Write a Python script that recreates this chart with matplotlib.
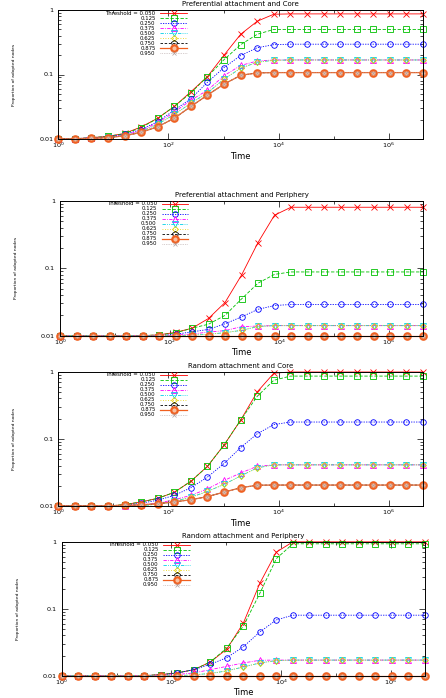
import matplotlib
matplotlib.use("Agg")
import matplotlib.pyplot as plt
from matplotlib.ticker import FixedLocator, NullFormatter, FixedFormatter

# ---------------- data ----------------
time = [2 ** k for k in range(23)]
thresholds = ["0.050", "0.125", "0.250", "0.375", "0.500", "0.625", "0.750", "0.875", "0.950"]
titles = ["Preferential attachment and Core", "Preferential attachment and Periphery",
          "Random attachment and Core", "Random attachment and Periphery"]

# Preferential attachment and Core
pc_050 = [0.01, 0.0101, 0.0105, 0.011, 0.0122, 0.0154, 0.021, 0.032, 0.054, 0.093, 0.20, 0.42, 0.67, 0.86] + [0.87] * 9
pc_125 = [0.01, 0.0101, 0.0105, 0.011, 0.0121, 0.015, 0.021, 0.032, 0.052, 0.093, 0.17, 0.29, 0.42, 0.50] + [0.50] * 9
pc_250 = [0.01, 0.0101, 0.0104, 0.0108, 0.0118, 0.014, 0.0186, 0.028, 0.042, 0.076, 0.128, 0.197, 0.26, 0.29] + [0.295] * 9
pc_375 = [0.01, 0.0101, 0.0104, 0.0107, 0.0115, 0.0135, 0.018, 0.026, 0.040, 0.057, 0.096, 0.138, 0.162, 0.168] + [0.168] * 9
pc_500 = [0.01, 0.0101, 0.0103, 0.0106, 0.0113, 0.013, 0.017, 0.024, 0.036, 0.052, 0.085, 0.125, 0.155, 0.166] + [0.168] * 9
pc_625 = [0.01, 0.0101, 0.0103, 0.0106, 0.0113, 0.013, 0.017, 0.024, 0.036, 0.052, 0.085, 0.125, 0.155, 0.166] + [0.168] * 9
pc_750 = [0.01, 0.01, 0.0102, 0.0105, 0.0112, 0.0127, 0.0155, 0.021, 0.032, 0.048, 0.071, 0.097, 0.106, 0.107] + [0.107] * 9
pc_875 = [0.01, 0.01, 0.0102, 0.0105, 0.0112, 0.0127, 0.0155, 0.021, 0.032, 0.048, 0.071, 0.097, 0.106, 0.107] + [0.107] * 9
pc_950 = [0.01, 0.01, 0.0102, 0.0105, 0.0112, 0.0127, 0.0155, 0.021, 0.032, 0.048, 0.071, 0.097, 0.106, 0.107] + [0.107] * 9

# Preferential attachment and Periphery
pp_050 = [0.01] * 6 + [0.0103, 0.0112, 0.0129, 0.018, 0.031, 0.079, 0.24, 0.61] + [0.80] * 9
pp_125 = [0.01] * 6 + [0.0103, 0.011, 0.0129, 0.0148, 0.020, 0.035, 0.060, 0.081] + [0.088] * 9
pp_250 = [0.01] * 7 + [0.0105, 0.0114, 0.0124, 0.015, 0.019, 0.0246, 0.028] + [0.029] * 9
pp_375 = [0.01] * 7 + [0.0102, 0.0106, 0.0113, 0.0119, 0.0136, 0.0139, 0.0141] + [0.0141] * 9
pp_500 = [0.01] * 8 + [0.0102, 0.0105, 0.0111, 0.012, 0.0137, 0.0141] + [0.0141] * 9
pp_625 = [0.01] * 8 + [0.0102, 0.0105, 0.0111, 0.012, 0.0137, 0.0141] + [0.0141] * 9
pp_750 = [0.01] * 23
pp_875 = [0.01] * 23
pp_950 = [0.01] * 23

# Random attachment and Core
rc_050 = [0.01] * 4 + [0.0105, 0.0115, 0.013, 0.016, 0.0234, 0.039, 0.081, 0.19, 0.50, 0.95] + [0.99] * 9
rc_125 = [0.01] * 4 + [0.0105, 0.0115, 0.013, 0.016, 0.0234, 0.039, 0.081, 0.19, 0.43, 0.745] + [0.86] * 9
rc_250 = [0.01] * 4 + [0.0103, 0.011, 0.0122, 0.0144, 0.0187, 0.027, 0.043, 0.074, 0.119, 0.163] + [0.178] * 9
rc_375 = [0.01] * 5 + [0.0104, 0.011, 0.0124, 0.0144, 0.018, 0.024, 0.031, 0.039] + [0.041] * 10
rc_500 = [0.01] * 6 + [0.0107, 0.0118, 0.0135, 0.0165, 0.021, 0.028, 0.037] + [0.041] * 10
rc_625 = [0.01] * 6 + [0.0107, 0.0118, 0.0135, 0.0165, 0.021, 0.028, 0.037] + [0.041] * 10
rc_750 = [0.01] * 4 + [0.0102, 0.0104, 0.0108, 0.0115, 0.0124, 0.0138, 0.0161, 0.0187, 0.0204] + [0.0205] * 10
rc_875 = [0.01] * 4 + [0.0102, 0.0104, 0.0108, 0.0115, 0.0124, 0.0138, 0.0161, 0.0187, 0.0204] + [0.0205] * 10
rc_950 = [0.01] * 4 + [0.0102, 0.0104, 0.0108, 0.0115, 0.0124, 0.0138, 0.0161, 0.0187, 0.0204] + [0.0205] * 10

# Random attachment and Periphery
rp_050 = [0.01] * 6 + [0.0104, 0.011, 0.0123, 0.016, 0.025, 0.061, 0.24, 0.70] + [0.995] * 9
rp_125 = [0.01] * 6 + [0.0104, 0.011, 0.0123, 0.016, 0.026, 0.055, 0.17, 0.56] + [0.93] * 9
rp_250 = [0.01] * 6 + [0.0103, 0.011, 0.0123, 0.0148, 0.0186, 0.027, 0.045, 0.068] + [0.080] * 9
rp_375 = [0.01] * 7 + [0.0104, 0.011, 0.0123, 0.0138, 0.0155, 0.017] + [0.0171] * 10
rp_500 = [0.01] * 8 + [0.0103, 0.0108, 0.0118, 0.0135, 0.0155, 0.0168] + [0.0171] * 9
rp_625 = [0.01] * 8 + [0.0103, 0.0108, 0.0118, 0.0135, 0.0155, 0.0168] + [0.0171] * 9
rp_750 = [0.01] * 23
rp_875 = [0.01] * 23
rp_950 = [0.01] * 23

panels = [
    [pc_050, pc_125, pc_250, pc_375, pc_500, pc_625, pc_750, pc_875, pc_950],
    [pp_050, pp_125, pp_250, pp_375, pp_500, pp_625, pp_750, pp_875, pp_950],
    [rc_050, rc_125, rc_250, rc_375, rc_500, rc_625, rc_750, rc_875, rc_950],
    [rp_050, rp_125, rp_250, rp_375, rp_500, rp_625, rp_750, rp_875, rp_950],
]

# ---------------- styles ----------------
styles = [
    dict(color="#ff0000", ls="-", marker="x", ms=3.8, mfc="none", mew=0.6, lw=0.6),
    dict(color="#00c000", ls=(0, (4, 2)), marker="s", ms=3.8, mfc="none", mew=0.6, lw=0.6),
    dict(color="#0000ff", ls=(0, (1.5, 1.5)), marker="o", ms=4.0, mfc="none", mew=0.6, lw=0.6),
    dict(color="#ff00ff", ls=(0, (4, 1.5, 1, 1.5)), marker="^", ms=3.8, mfc="none", mew=0.6, lw=0.6),
    dict(color="#00d0e8", ls=(0, (4, 1.5, 1, 1.5, 1, 1.5)), marker="v", ms=3.8, mfc="none", mew=0.6, lw=0.6),
    dict(color="#e8d000", ls=(0, (1, 2)), marker="D", ms=3.0, mfc="none", mew=0.6, lw=0.6),
    dict(color="#000000", ls=(0, (3, 2)), marker="p", ms=3.8, mfc="none", mew=0.6, lw=0.6),
    dict(color="#f06020", ls="-", marker="o", ms=4.6, mfc="#f8c0a0", mew=1.6, lw=0.9),
    dict(color="#b0a0a0", ls=(0, (1, 1.5)), marker="x", ms=3.2, mfc="none", mew=0.5, lw=0.5),
]

boxes = [  # left, top, right, bottom in pixels
    (58.3, 10.0, 423.0, 139.0),
    (60.0, 200.7, 423.0, 335.7),
    (58.3, 371.7, 423.0, 506.0),
    (61.7, 541.7, 425.0, 675.7),
]

W, H = 446, 698
plt.rcParams["font.family"] = ["DejaVu Sans"]
plt.rcParams["mathtext.fontset"] = "dejavusans"
fig = plt.figure(figsize=(W / 100, H / 100), dpi=100)

for (l, t, r, b), series, title in zip(boxes, panels, titles):
    ax = fig.add_axes([l / W, 1 - b / H, (r - l) / W, (b - t) / H])
    for vals, st, lab in zip(series, styles, thresholds):
        label = "Threshold = " + lab if lab == "0.050" else lab
        ax.plot(time, vals, label=label, clip_on=False, **st)
    ax.set_xscale("log")
    ax.set_yscale("log")
    ax.set_xlim(1, 2 ** 22)
    ax.set_ylim(0.01, 1)
    ax.xaxis.set_major_locator(FixedLocator([1, 1e2, 1e4, 1e6]))
    ax.xaxis.set_major_formatter(FixedFormatter([r"$10^{0}$", r"$10^{2}$", r"$10^{4}$", r"$10^{6}$"]))
    ax.xaxis.set_minor_locator(FixedLocator([1e1, 1e3, 1e5]))
    ax.xaxis.set_minor_formatter(NullFormatter())
    ax.yaxis.set_major_locator(FixedLocator([0.01, 0.1, 1]))
    ax.yaxis.set_major_formatter(FixedFormatter(["0.01", "0.1", "1"]))
    ax.yaxis.set_minor_locator(FixedLocator([m * d for d in (0.01, 0.1) for m in range(2, 10)]))
    ax.yaxis.set_minor_formatter(NullFormatter())
    ax.tick_params(which="both", direction="in", top=True, right=True, width=0.5, labelsize=4.6)
    ax.tick_params(which="major", length=4)
    ax.tick_params(which="minor", length=2)
    ax.tick_params(axis="x", pad=1.5)
    ax.tick_params(axis="y", pad=3.5)
    for sp in ax.spines.values():
        sp.set_linewidth(0.7)
    ax.set_title(title, fontsize=5.0, pad=3)
    ax.set_xlabel("Time", fontsize=6, labelpad=1)
    ax.set_ylabel("Proportion of adopted nodes", fontsize=3.2, labelpad=6)
    ax.yaxis.set_label_coords(-42 / (r - l), 0.5)
    leg = ax.legend(loc="upper right", bbox_to_anchor=(0.353, 0.995), frameon=False,
                    fontsize=3.9, markerfirst=False, labelspacing=0.0, handlelength=4.9,
                    handleheight=0.6, handletextpad=0.9, borderpad=0, borderaxespad=0,
                    numpoints=1)

fig.savefig("out.png", dpi=100)
